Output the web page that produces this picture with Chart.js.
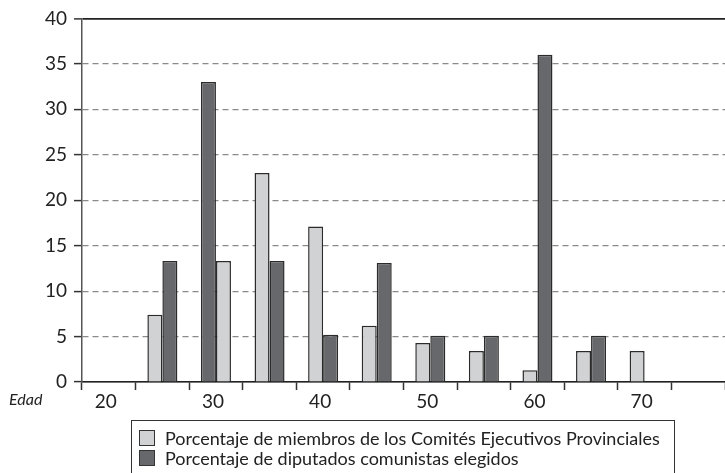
<!DOCTYPE html>
<html>
<head>
<meta charset="utf-8">
<script src="https://cdn.jsdelivr.net/npm/chart.js@4"></script>
<style>
  body { margin: 0; background: #fff; }
  #caja { position: relative; width: 725px; height: 473px; overflow: hidden; font-family: Lato, "Open Sans", sans-serif; color: #222; }
  #edad { position: absolute; left: 9px; top: 389px; font-size: 16px; font-style: italic; }
  #leyenda { position: absolute; left: 131px; top: 420px; width: 542px; height: 70px; border: 1.5px solid #333; }
  .fila { position: absolute; left: 7px; font-size: 18px; white-space: nowrap; line-height: 20px; }
  .cuadro { display: inline-block; width: 14px; height: 14px; border: 1px solid #333; vertical-align: -1px; margin-right: 10px; }
</style>
</head>
<body>
<div id="caja">
  <canvas id="grafico" width="725" height="473"></canvas>
  <div id="edad">Edad</div>
  <div id="leyenda"></div>
</div>
<script>
const edades = ["20", "25", "30", "35", "40", "45", "50", "55", "60", "65", "70", "75"];
const etiquetasEje = ["20", "", "30", "", "40", "", "50", "", "60", "", "70", ""];
const comites = [null, 7.4, 13.3, 23.0, 17.1, 6.2, 4.3, 3.4, 1.3, 3.4, 3.4, null];
const diputados = [null, 13.3, 33.0, 13.3, 5.2, 13.1, 5.1, 5.1, 36.0, 5.1, null, null];
const nombres = [
  "Porcentaje de miembros de los Comités Ejecutivos Provinciales",
  "Porcentaje de diputados comunistas elegidos"
];
const colorClaro = "#d1d2d4";
const colorOscuro = "#67686b";

// en el original, el grupo de 30 años lleva la barra oscura primero
const invertidos = [2];

const primera = comites.map((v, i) => (invertidos.includes(i) ? diputados[i] : v));
const segunda = diputados.map((v, i) => (invertidos.includes(i) ? comites[i] : v));
const coloresPrimera = edades.map((e, i) => (invertidos.includes(i) ? colorOscuro : colorClaro));
const coloresSegunda = edades.map((e, i) => (invertidos.includes(i) ? colorClaro : colorOscuro));

const leyenda = document.getElementById("leyenda");
[colorClaro, colorOscuro].forEach((c, i) => {
  const fila = document.createElement("div");
  fila.className = "fila";
  fila.style.top = (i === 0 ? 7 : 27) + "px";
  fila.innerHTML = '<span class="cuadro" style="background:' + c + '"></span>' + nombres[i];
  leyenda.appendChild(fila);
});

const ctx = document.getElementById("grafico").getContext("2d");
new Chart(ctx, {
  type: "bar",
  data: {
    labels: edades,
    datasets: [
      {
        label: nombres[0],
        data: primera,
        backgroundColor: coloresPrimera,
        borderColor: "#2b2b2b",
        borderWidth: 1.5,
        categoryPercentage: 0.56,
        barPercentage: 1.0
      },
      {
        label: nombres[1],
        data: segunda,
        backgroundColor: coloresSegunda,
        borderColor: "#2b2b2b",
        borderWidth: 1.5,
        categoryPercentage: 0.56,
        barPercentage: 1.0
      }
    ]
  },
  options: {
    responsive: false,
    animation: false,
    devicePixelRatio: 1,
    layout: { padding: { top: 18, right: 0, left: 0, bottom: 0 } },
    plugins: {
      legend: { display: false },
      tooltip: { enabled: false }
    },
    scales: {
      x: {
        offset: true,
        grid: {
          offset: true,
          drawOnChartArea: false,
          drawTicks: true,
          tickLength: 8,
          tickColor: "#333",
          tickWidth: 1.5
        },
        border: { color: "#222", width: 1.5 },
        ticks: {
          color: "#222",
          padding: 0,
          labelOffset: -3,
          maxRotation: 0,
          autoSkip: false,
          font: { family: "Lato", size: 19 },
          callback: (v, i) => etiquetasEje[i]
        },
        afterFit: (s) => { s.height = 91; }
      },
      y: {
        min: 0,
        max: 40,
        ticks: {
          stepSize: 5,
          color: "#222",
          padding: 7,
          font: { family: "Lato", size: 19 }
        },
        grid: {
          color: (c) => (c.tick && (c.tick.value === 40 || c.tick.value === 0) ? "#222" : "#8a8a8a"),
          lineWidth: (c) => (c.tick && c.tick.value === 40 ? 1.8 : 1.2),
          tickColor: "#333",
          tickLength: 8,
          tickWidth: 1.5
        },
        border: {
          color: "#555",
          width: 1.5,
          dash: (c) => (c.tick && (c.tick.value === 40 || c.tick.value === 0) ? [] : [6, 4])
        },
        afterFit: (s) => { s.width = 82; }
      }
    }
  }
});
</script>
</body>
</html>
